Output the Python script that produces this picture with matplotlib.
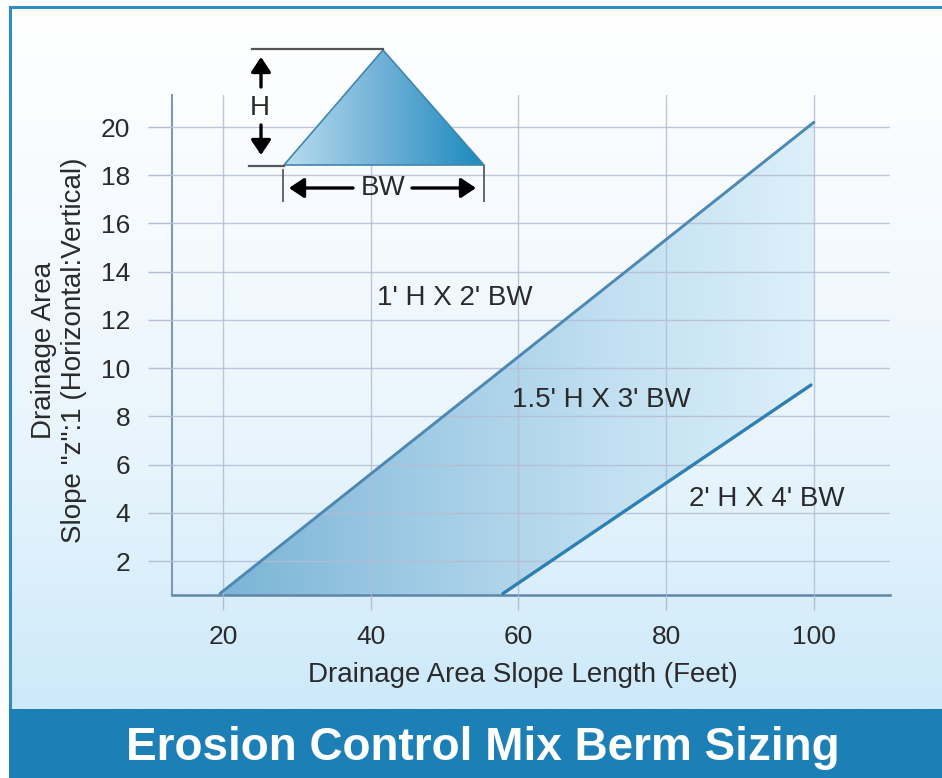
import matplotlib
matplotlib.use('Agg')
import matplotlib.pyplot as plt
from matplotlib.colors import LinearSegmentedColormap
from matplotlib.patches import Polygon
import numpy as np

W, H = 942, 778

x_ticks = [20, 40, 60, 80, 100]
y_ticks = [2, 4, 6, 8, 10, 12, 14, 16, 18, 20]

# upper and lower berm limits
upper_x = [19.6, 100]
upper_y = [0.65, 20.2]
lower_x = [57.9, 99.6]
lower_y = [0.65, 9.3]

# schematic berm, in pixels of the picture
berm_x = [284, 383, 484]
berm_y = [165, 50, 165]

plt.rcParams['font.family'] = ['Liberation Sans', 'DejaVu Sans']
text_c = '#2a2a2a'

fig = plt.figure(figsize=(W / 100, H / 100), dpi=100, facecolor='white')


def px_axes(left, top, right, bottom, z=0):
    return fig.add_axes([left / W, 1 - bottom / H, (right - left) / W, (bottom - top) / H], zorder=z)


# ==========================================
# Panel background and banner
# ==========================================

bg = px_axes(10, 7, W, 709)
bg_cmap = LinearSegmentedColormap.from_list('bg', ['#ffffff', '#f5fafe', '#e6f4fc', '#cde9fa'])
bg.imshow(np.linspace(0, 1, 256).reshape(-1, 1), aspect='auto', cmap=bg_cmap, extent=[0, 1, 0, 1])
bg.set_xticks([])
bg.set_yticks([])
for side, s in bg.spines.items():
    s.set_visible(side in ('top', 'left'))
    s.set_color('#2e8cc4')
    s.set_linewidth(2.2)

banner = px_axes(9, 709, W, H, z=5)
banner.set_facecolor('#1c80b6')
banner.set_xticks([])
banner.set_yticks([])
for s in banner.spines.values():
    s.set_visible(False)
banner.text((483 - 9) / (W - 9), 0.44, 'Erosion Control Mix Berm Sizing', transform=banner.transAxes,
            color='white', fontsize=33, fontweight='bold', ha='center', va='center')

# ==========================================
# Chart
# ==========================================

ax = px_axes(172, 95, 890, 595, z=2)
ax.patch.set_alpha(0)

grid_c = '#b4bdd4'
ax.set_xticks(x_ticks)
ax.set_yticks(y_ticks)
ax.grid(True, color=grid_c, linewidth=1.0, alpha=0.85)
ax.set_axisbelow(False)
ax.tick_params(axis='x', length=11, width=1.0, color=grid_c, labelsize=19, pad=10.5, labelcolor=text_c)
ax.tick_params(axis='y', length=17, width=1.0, color=grid_c, labelsize=19, pad=13, labelcolor=text_c)
ax.spines['top'].set_visible(False)
ax.spines['right'].set_visible(False)
ax.spines['left'].set_color('#7f97b8')
ax.spines['bottom'].set_color('#5f86a8')
ax.spines['left'].set_linewidth(1.5)
ax.spines['bottom'].set_linewidth(1.8)

# gradient band between the two limits
band_cmap = LinearSegmentedColormap.from_list('band', ['#7ab4d6', '#a0cbe5', '#c2e0f1', '#dcf0fa'])
im = ax.imshow(np.linspace(0, 1, 256).reshape(1, -1), aspect='auto', cmap=band_cmap,
               extent=[upper_x[0], upper_x[1], 0.59, upper_y[1]], zorder=1.5)
band = Polygon([(upper_x[0], 0.59), (upper_x[1], upper_y[1]), (upper_x[1], lower_y[1]),
                (lower_x[1], lower_y[1]), (lower_x[0], 0.59)],
               closed=True, transform=ax.transData, facecolor='none', edgecolor='none')
ax.add_patch(band)
im.set_clip_path(band)
ax.set_xlim(13.1, 110.3)
ax.set_ylim(0.59, 21.33)

ax.plot(upper_x, upper_y, color='#4d87b2', linewidth=2.1, solid_capstyle='round', zorder=3)
ax.plot(lower_x, lower_y, color='#2f7fb2', linewidth=2.4, solid_capstyle='round', zorder=3)

ax.set_xlabel('Drainage Area Slope Length (Feet)', fontsize=20, color=text_c, va='center')
ax.xaxis.set_label_coords((523 - 172) / 718, (595 - 675) / 500)
ax.set_ylabel('Drainage Area\nSlope "z":1 (Horizontal:Vertical)', fontsize=20, color=text_c,
              va='center', linespacing=1.22)
ax.yaxis.set_label_coords((59 - 172) / 718, (595 - 350) / 500)

ax.text(51.4, 12.9, "1' H X 2' BW", fontsize=20, ha='center', va='center', color=text_c, zorder=4)
ax.text(71.3, 8.68, "1.5' H X 3' BW", fontsize=20, ha='center', va='center', color=text_c, zorder=4)
ax.text(93.6, 4.58, "2' H X 4' BW", fontsize=20, ha='center', va='center', color=text_c, zorder=4)

# ==========================================
# Berm schematic
# ==========================================

sk = px_axes(0, 0, W, H, z=4)
sk.patch.set_alpha(0)
sk.axis('off')

tri_cmap = LinearSegmentedColormap.from_list('tri', ['#b9dcef', '#6fb0d6', '#1b8abd'])
tri_im = sk.imshow(np.linspace(0, 1, 256).reshape(1, -1), aspect='auto', cmap=tri_cmap,
                   extent=[berm_x[0], berm_x[2], berm_y[0], berm_y[1]])
tri = Polygon(list(zip(berm_x, berm_y)), closed=True, facecolor='none', edgecolor='#3f86b0', linewidth=1.2)
sk.add_patch(tri)
tri_im.set_clip_path(tri)
sk.set_xlim(0, W)
sk.set_ylim(H, 0)

sk.plot([252, 383], [49, 49], color='#555555', linewidth=1.6)
sk.plot([249, 284], [166, 166], color='#555555', linewidth=1.6)
sk.plot([283, 283], [170, 201], color='#666666', linewidth=1.4)
sk.plot([484, 484], [166, 201], color='#666666', linewidth=1.4)

arrow = dict(arrowstyle='-|>,head_width=0.6,head_length=0.9', color='black', linewidth=2.4, shrinkA=0, shrinkB=0)
sk.annotate('', xy=(261, 57), xytext=(261, 87), arrowprops=arrow)
sk.annotate('', xy=(261, 155), xytext=(261, 125), arrowprops=arrow)
sk.annotate('', xy=(289, 188), xytext=(353, 188), arrowprops=arrow)
sk.annotate('', xy=(476, 188), xytext=(412, 188), arrowprops=arrow)
sk.text(260, 108, 'H', fontsize=20, ha='center', va='center', color=text_c)
sk.text(383, 188, 'BW', fontsize=20, ha='center', va='center', color=text_c)

fig.savefig('out.png', dpi=100, facecolor='white')
